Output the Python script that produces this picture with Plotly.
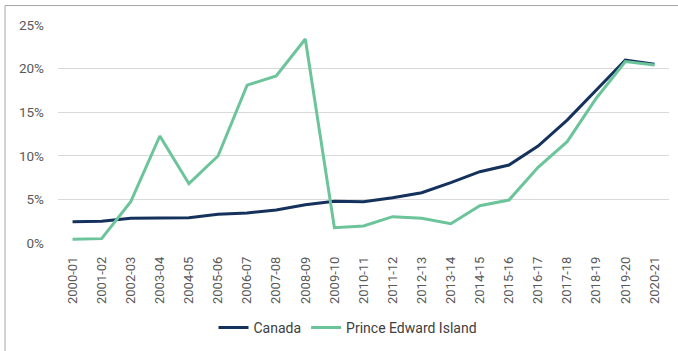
import plotly.graph_objects as go

years = ["2000-01","2001-02","2002-03","2003-04","2004-05","2005-06","2006-07","2007-08",
         "2008-09","2009-10","2010-11","2011-12","2012-13","2013-14","2014-15","2015-16",
         "2016-17","2017-18","2018-19","2019-20","2020-21"]
canada = [2.44,2.5,2.83,2.9,2.9,3.29,3.44,3.78,4.39,4.78,4.74,5.2,5.77,6.92,8.18,8.94,
          11.12,14.1,17.6,20.98,20.5]
pei = [0.42,0.5,4.74,12.27,6.8,9.98,18.1,19.15,23.4,1.75,1.95,3.02,2.83,2.21,4.28,4.93,
       8.68,11.62,16.6,20.8,20.41]
y_ticks = [0,5,10,15,20,25]
y_tick_text = ["0%","5%","10%","15%","20%","25%"]

fig = go.Figure()
fig.add_trace(go.Scatter(x=years, y=canada, name="Canada", mode="lines",
                         line=dict(color="#14325c", width=3)))
fig.add_trace(go.Scatter(x=years, y=pei, name="Prince Edward Island", mode="lines",
                         line=dict(color="#6cc49b", width=3)))

W, H = 678, 351
L, R, T, B = 58, 9, 24.5, 108
pw, ph = W - L - R, H - T - B

fig.update_layout(
    width=W, height=H,
    margin=dict(l=L, r=R, t=T, b=B, autoexpand=False),
    paper_bgcolor="white", plot_bgcolor="white",
    font=dict(family="Roboto", color="#595959"),
    showlegend=True,
    legend=dict(orientation="h", x=(348 - L) / pw, xanchor="center", y=(T + ph - 328) / ph,
                yanchor="middle", font=dict(size=14, color="#404040"),
                itemwidth=30, tracegroupgap=0),
    xaxis=dict(type="category", tickangle=-90, showgrid=False, zeroline=False,
               showline=False, tickfont=dict(size=13, color="#595959"), automargin=False,
               ticks="", ticklabelstandoff=10, range=[-0.5, len(years) - 0.5]),
    yaxis=dict(range=[0, 25], tickvals=y_ticks, ticktext=y_tick_text, automargin=False,
               showgrid=True, gridcolor="#d9d9d9", gridwidth=1, zeroline=False,
               showline=False, tickfont=dict(size=13.5, color="#595959"),
               ticklabelstandoff=13),
    shapes=[dict(type="rect", xref="paper", yref="paper",
                 x0=(5 - L) / pw, x1=(W + 5 - L) / pw,
                 y0=(T + ph - (H + 5)) / ph, y1=(T + ph - 5) / ph,
                 line=dict(color="#a6a6a6", width=1), layer="below")],
)

fig.write_html("out.html", config={"displayModeBar": False},
               post_script="document.body.style.margin='0';document.body.style.overflow='hidden';")
